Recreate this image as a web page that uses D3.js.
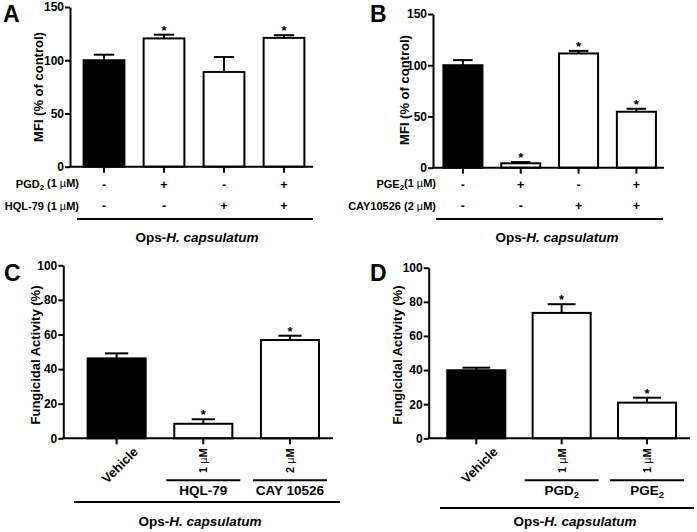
<!DOCTYPE html>
<html><head><meta charset="utf-8">
<script src="https://cdn.jsdelivr.net/npm/d3@7"></script>
<style>
body{margin:0;background:#fff;}
svg text{font-family:"Liberation Sans",Arial,sans-serif;font-weight:bold;fill:#000;}
</style></head>
<body><svg id="c" width="697" height="532"></svg>
<script>
// ---- data ----
const catsA = ["ctrl","PGD2","HQL","PGD2+HQL"];
const meanA = [100, 120.5, 89, 121];
const semA  = [5.2, 3.5, 14, 2.5];
const starA = [false, true, false, true];
const row1A = ["-","+","-","+"];
const row2A = ["-","-","+","+"];

const catsB = ["ctrl","PGE2","CAY","PGE2+CAY"];
const meanB = [100, 4.3, 111.5, 54.6];
const semB  = [5, 1.2, 2.5, 2.9];
const starB = [false, true, true, true];
const row1B = ["-","+","-","+"];
const row2B = ["-","-","+","+"];

const catsC = ["Vehicle","HQL-79","CAY 10526"];
const meanC = [46.2, 8.4, 56.8];
const semC  = [2.9, 2.6, 2.5];
const starC = [false, true, true];
const doseC = ["", "1 µM", "2 µM"];

const catsD = ["Vehicle","PGD2","PGE2"];
const meanD = [39.9, 73.5, 20.9];
const semD  = [1.5, 5.1, 2.9];
const starD = [false, true, true];
const doseD = ["", "1 µM", "1 µM"];

const ticksMFI = [0, 50, 100, 150];
const ticksFung = [0, 20, 40, 60, 80, 100];

const svg = d3.select("#c");

function panel(o){
  const g = svg.append("g");
  const x = d3.scaleBand().domain(o.cats).range([o.x0, o.x1]).paddingInner(o.pad).paddingOuter(o.pad/2);
  const y = d3.scaleLinear().domain([0, o.ymax]).range([o.y0, o.y1]);
  const bw = x.bandwidth();
  // bars
  g.selectAll("rect.bar").data(o.means).join("rect")
    .attr("x",(d,i)=>x(o.cats[i])).attr("y",d=>y(d))
    .attr("width",bw).attr("height",d=>y(0)-y(d))
    .attr("fill",(d,i)=>i===0?"#000":"#fff").attr("stroke","#000").attr("stroke-width",2);
  // error bars
  const cap = bw*o.cap;
  o.means.forEach((m,i)=>{
    const cx = x(o.cats[i])+bw/2;
    g.append("line").attr("x1",cx).attr("x2",cx).attr("y1",y(m)).attr("y2",y(m+o.sem[i])).attr("stroke","#000").attr("stroke-width",2);
    g.append("line").attr("x1",cx-cap/2).attr("x2",cx+cap/2).attr("y1",y(m+o.sem[i])).attr("y2",y(m+o.sem[i])).attr("stroke","#000").attr("stroke-width",2);
    if(o.star[i]) g.append("text").attr("x",cx).attr("y",y(m+o.sem[i])).attr("text-anchor","middle").attr("font-size",13).text("*");
  });
  // y axis
  const ya = g.append("g").attr("transform",`translate(${o.ax},0)`)
    .call(d3.axisLeft(y).tickValues(o.ticks).tickSize(5).tickSizeOuter(0).tickPadding(1));
  ya.selectAll("path,line").attr("stroke","#000").attr("stroke-width",2);
  ya.selectAll("text").attr("font-size",12).attr("font-family","Liberation Sans, Arial").attr("font-weight","bold").attr("fill","#000");
  // x axis
  const xa = g.append("g").attr("transform",`translate(0,${o.y0})`)
    .call(d3.axisBottom(x).tickSize(6).tickFormat(""));
  xa.select("path").remove();
  xa.selectAll("line").attr("stroke","#000").attr("stroke-width",2);
  g.append("line").attr("x1",o.ax-1).attr("x2",o.xend).attr("y1",o.y0).attr("y2",o.y0).attr("stroke","#000").attr("stroke-width",2);
  // y title
  g.append("text").attr("transform",`translate(${o.tx},${o.ty}) rotate(-90)`)
    .attr("text-anchor","middle").attr("font-size",13).text(o.title);
  // panel letter
  g.append("text").attr("x",o.lx).attr("y",o.ly).attr("font-size",23).text(o.letter);
  return {g,x,y,bw};
}

function opsText(g, cx, cy){
  const t = g.append("text").attr("x",cx).attr("y",cy).attr("text-anchor","middle").attr("font-size",13.5);
  t.append("tspan").text("Ops-");
  t.append("tspan").attr("font-style","italic").text("H. capsulatum");
}

function subLabel(t, base, sub, rest){
  t.append("tspan").text(base);
  t.append("tspan").attr("font-size","0.7em").attr("dy","0.3em").text(sub);
  if(rest!==undefined){
    t.append("tspan").attr("dy","-0.3em").text(rest[0]);
    t.append("tspan").attr("font-weight","normal").text(rest[1]);
    t.append("tspan").text(rest[2]);
  }
}

// ---- Panel A ----
let P = panel({cats:catsA, means:meanA, sem:semA, star:starA, x0:74, x1:314, pad:0.32, ymax:150, y0:166.7, y1:7,
  ax:70, xend:313, ticks:ticksMFI, title:"MFI (% of control)", tx:43, ty:87, cap:0.5, letter:"A", lx:3, ly:22});
(function(){
  const g=P.g, x=P.x, bw=P.bw;
  const r1 = g.append("text").attr("x",79).attr("y",188).attr("text-anchor","end").attr("font-size",11);
  subLabel(r1,"PGD","2",[" (1 ","µ","M)"]);
  const r2 = g.append("text").attr("x",79).attr("y",209.5).attr("text-anchor","end").attr("font-size",11);
  r2.append("tspan").text("HQL-79 (1 "); r2.append("tspan").attr("font-weight","normal").text("µ"); r2.append("tspan").text("M)");
  catsA.forEach((c,i)=>{
    g.append("text").attr("x",x(c)+bw/2).attr("y",188.5).attr("text-anchor","middle").attr("font-size",12.5).text(row1A[i]);
    g.append("text").attr("x",x(c)+bw/2).attr("y",210).attr("text-anchor","middle").attr("font-size",12.5).text(row2A[i]);
  });
  g.append("line").attr("x1",77).attr("x2",313).attr("y1",219).attr("y2",219).attr("stroke","#000").attr("stroke-width",2);
  opsText(g,197,242);
})();

// ---- Panel B ----
P = panel({cats:catsB, means:meanB, sem:semB, star:starB, x0:434, x1:665.3, pad:0.325, ymax:150, y0:167.7, y1:14,
  ax:433, xend:664, ticks:ticksMFI, title:"MFI (% of control)", tx:409, ty:90, cap:0.5, letter:"B", lx:370, ly:22});
(function(){
  const g=P.g, x=P.x, bw=P.bw;
  const r1 = g.append("text").attr("x",436).attr("y",188).attr("text-anchor","end").attr("font-size",11);
  subLabel(r1,"PGE","2",["(1 ","µ","M)"]);
  const r2 = g.append("text").attr("x",436).attr("y",209.5).attr("text-anchor","end").attr("font-size",11);
  r2.append("tspan").text("CAY10526 (2 "); r2.append("tspan").attr("font-weight","normal").text("µ"); r2.append("tspan").text("M)");
  catsB.forEach((c,i)=>{
    g.append("text").attr("x",x(c)+bw/2).attr("y",188.5).attr("text-anchor","middle").attr("font-size",12.5).text(row1B[i]);
    g.append("text").attr("x",x(c)+bw/2).attr("y",210).attr("text-anchor","middle").attr("font-size",12.5).text(row2B[i]);
  });
  g.append("line").attr("x1",436).attr("x2",663).attr("y1",219).attr("y2",219).attr("stroke","#000").attr("stroke-width",2);
  opsText(g,557,242);
})();

function bottomC(P, cats, dose, groupLabels, longX1, longX2, longY, opsX){
  const g=P.g, x=P.x, bw=P.bw, y0=P.y(0);
  cats.forEach((c,i)=>{
    const cx = x(c)+bw/2;
    if(i===0){
      g.append("text").attr("transform",`translate(${cx+19},${y0+11}) rotate(-45)`)
        .attr("text-anchor","end").attr("dy","0.35em").attr("font-size",13).text(c);
    } else {
      const t = g.append("text").attr("transform",`translate(${cx},${y0+10}) rotate(-90)`)
        .attr("text-anchor","end").attr("dy","0.35em").attr("font-size",11);
      const parts = dose[i].split("µ");
      t.append("tspan").text(parts[0]); t.append("tspan").attr("font-weight","normal").text("µ"); t.append("tspan").text(parts[1]);
      g.append("line").attr("x1",cx-37).attr("x2",cx+37).attr("y1",y0+42).attr("y2",y0+42).attr("stroke","#000").attr("stroke-width",2);
      const lt = g.append("text").attr("x",cx).attr("y",y0+57).attr("text-anchor","middle").attr("font-size",13.5);
      const gl = groupLabels[i];
      if(gl[1]) subLabel(lt, gl[0], gl[1]); else lt.text(gl[0]);
    }
  });
  g.append("line").attr("x1",longX1).attr("x2",longX2).attr("y1",longY).attr("y2",longY).attr("stroke","#000").attr("stroke-width",2);
  opsText(g,opsX,526);
}

// ---- Panel C ----
P = panel({cats:catsC, means:meanC, sem:semC, star:starC, x0:73.3, x1:333.3, pad:0.33, ymax:100, y0:438.3, y1:265.3,
  ax:63.3, xend:333, ticks:ticksFung, title:"Fungicidal Activity (%)", tx:40, ty:355, cap:0.4, letter:"C", lx:4, ly:281});
bottomC(P, catsC, doseC, [["Vehicle"],["HQL-79"],["CAY 10526"]], 74, 340, 502, 200);

// ---- Panel D ----
P = panel({cats:catsD, means:meanD, sem:semD, star:starD, x0:433.6, x1:689.7, pad:0.32, ymax:100, y0:438.3, y1:267.7,
  ax:428.7, xend:690, ticks:ticksFung, title:"Fungicidal Activity (%)", tx:402, ty:355, cap:0.48, letter:"D", lx:370, ly:281});
bottomC(P, catsD, doseD, [["Vehicle"],["PGD","2"],["PGE","2"]], 440, 694, 508, 575);
</script></body></html>
